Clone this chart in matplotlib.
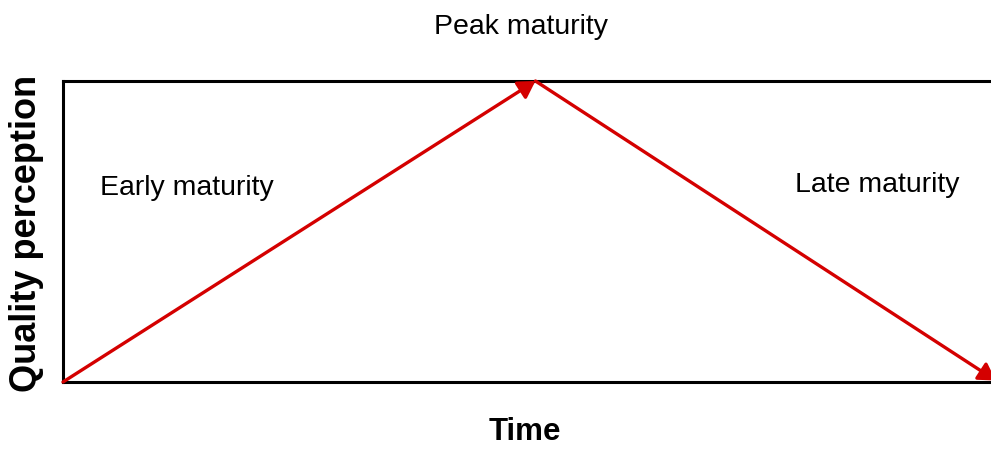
import matplotlib.pyplot as plt

plt.rcParams['font.family'] = ['Liberation Sans', 'DejaVu Sans']

# stage points along time (0..1) and quality perception (0..1)
time_pts = [0.0, 0.508, 1.003]
quality_pts = [0.0, 1.0, 0.005]

stage_labels = ["Early maturity", "Peak maturity", "Late maturity"]
label_x = [0.133, 0.4925, 0.875]
label_y = [0.644, 1.179, 0.654]

red = "#d40000"

fig = plt.figure(figsize=(9.91, 4.49), dpi=100)
ax = fig.add_axes([63 / 991, 1 - 382 / 449, 930 / 991, 301 / 449])
ax.set_xlim(0, 1)
ax.set_ylim(0, 1)

for i in range(len(time_pts) - 1):
    ax.annotate("", xy=(time_pts[i + 1], quality_pts[i + 1]),
                xytext=(time_pts[i], quality_pts[i]),
                arrowprops=dict(arrowstyle="-|>,head_length=0.5,head_width=0.3",
                                color=red, lw=2.4,
                                mutation_scale=20, shrinkA=0, shrinkB=0),
                annotation_clip=False)

for txt, x, y in zip(stage_labels, label_x, label_y):
    ax.text(x, y, txt, ha="center", va="center", fontsize=20.5, clip_on=False)

for s in ["left", "top", "bottom"]:
    ax.spines[s].set_linewidth(2.2)
    ax.spines[s].set_color("black")
ax.spines["right"].set_visible(False)

ax.set_xticks([])
ax.set_yticks([])

fig.text(525 / 991, 1 - 432 / 449, "Time", ha="center", va="center",
         fontsize=22.5, fontweight="bold")
fig.text(27 / 991, 1 - 233 / 449, "Quality perception", ha="center",
         va="center", rotation=90, fontsize=26, fontweight="bold")

fig.savefig("out.png", dpi=100, facecolor="white")
